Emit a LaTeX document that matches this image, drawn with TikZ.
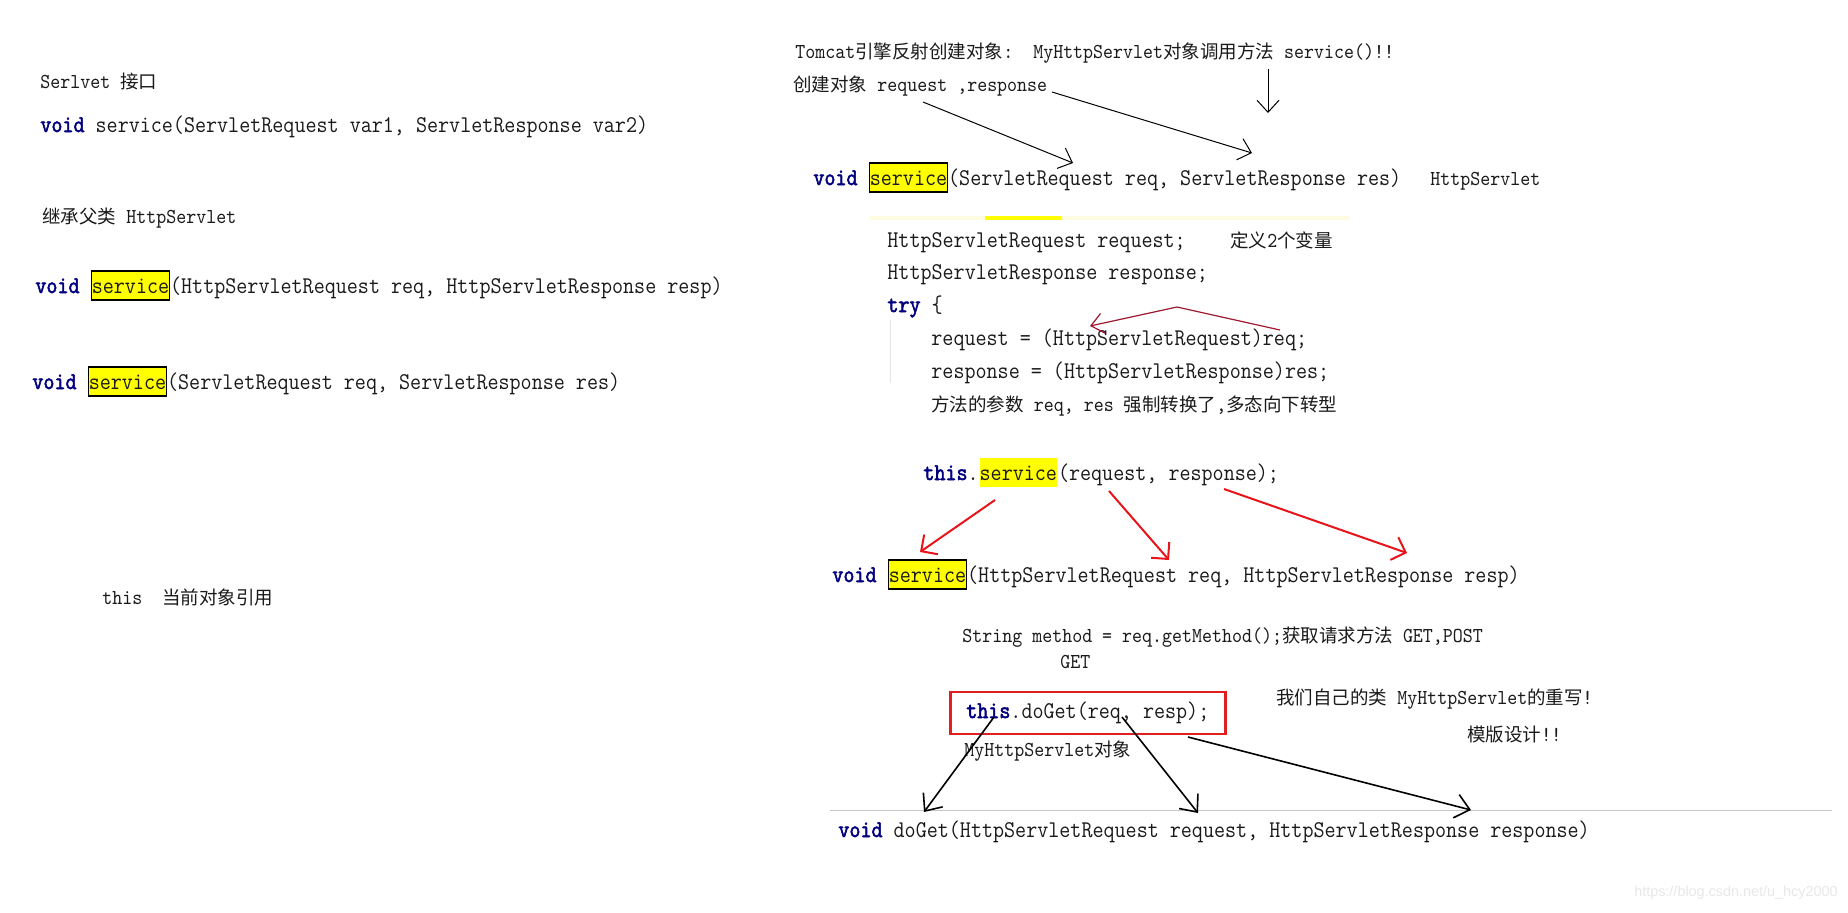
\documentclass[tikz,border=0pt]{standalone}
\usepackage{fontspec}
\usetikzlibrary{arrows.meta}
\newfontfamily\monof[FakeStretch=0.894]{Latin Modern Mono}
\newfontfamily\monofb[FakeStretch=0.894,FakeBold=2.2]{Latin Modern Mono}
\newfontfamily\cjkf{Noto Sans CJK SC}
\newfontfamily\wmf{Liberation Sans}
\definecolor{kwblue}{HTML}{000080}
\definecolor{txt}{HTML}{1A1A1A}
\definecolor{hly}{HTML}{FFFF00}
\definecolor{redar}{HTML}{E8141A}
\definecolor{darkred}{HTML}{A01830}
\definecolor{redbox}{HTML}{E02020}
\definecolor{paley}{HTML}{FFFBE0}
\newcommand\bigf{\fontsize{12pt}{14pt}\selectfont\monof}
\newcommand\smallf{\fontsize{10.64pt}{12pt}\selectfont\monof}
\newcommand\zh[1]{{\cjkf\fontsize{9.25pt}{12pt}\selectfont #1}}
\newcommand\kw[1]{{\monofb\color{kwblue}#1}}
\begin{document}
\begin{tikzpicture}[x=0.5pt,y=-0.5pt,
  big/.style={font=\bigf, text=txt, inner sep=0pt, anchor=base west},
  small/.style={font=\smallf, text=txt, inner sep=0pt, anchor=base west},
  hlbox/.style={big, fill=hly, draw=black, line width=0.6pt, inner xsep=0pt, inner ysep=1.5pt, text height=9.5pt, text depth=2pt},
  hlplain/.style={hlbox, draw=none},
  blk/.style={-{Straight Barb[length=6pt,width=11pt]}, line width=0.5pt, black},
  blkthick/.style={-{Straight Barb[length=7pt,width=12pt]}, line width=0.8pt, black},
  redarrow/.style={-{Straight Barb[length=6pt,width=12pt]}, line width=1pt, redar},
  tryarrow/.style={-{Straight Barb[length=6pt,width=10pt]}, line width=0.6pt, darkred}
]
\useasboundingbox[fill=white] (0,0) rectangle (1848,912);

% ---------- left column ----------
\node[small] (l1) at (40,88) {Serlvet \zh{接口}};
\node[big] (l2) at (40,132) {\kw{void} service(ServletRequest var1, ServletResponse var2)};
\node[small] (l3) at (42,223) {\zh{继承父类} HttpServlet};
\node[big] (l4a) at (35,293) {\kw{void}};
\node[hlbox] (l4b) at ([xshift=5.6pt]l4a.base east) {service};
\node[big] (l4c) at (l4b.base east) {(HttpServletRequest req, HttpServletResponse resp)};
\node[big] (l5a) at (32,389) {\kw{void}};
\node[hlbox] (l5b) at ([xshift=5.6pt]l5a.base east) {service};
\node[big] (l5c) at (l5b.base east) {(ServletRequest req, ServletResponse res)};
\node[small] (l6) at (102,604) {this\ \ \zh{当前对象引用}};

% ---------- right column ----------
\node[small] (r1) at (795,58) {Tomcat\zh{引擎反射创建对象}:\ \ MyHttpServlet\zh{对象调用方法} service()!!};
\node[small] (r2) at (793,91) {\zh{创建对象} request ,response};
\node[big] (r3a) at (813,185) {\kw{void}};
\node[hlbox] (r3b) at ([xshift=5.6pt]r3a.base east) {service};
\node[big] (r3c) at (r3b.base east) {(ServletRequest req, ServletResponse res)};
\node[small] (r3d) at (1430,185) {HttpServlet};

\draw[paley, line width=2pt] (870,218) -- (1349,218);
\draw[hly, line width=2pt] (985,218) -- (1062,218);

\node[big] (r4) at (887,247) {HttpServletRequest request;};
\node[small] (r4n) at (1230,247) {\zh{定义}2\zh{个变量}};
\node[big] (r5) at (887,279) {HttpServletResponse response;};
\node[big] (r6) at (887,312) {\kw{try} \{};
\draw[black!10] (890,320) -- (890,383);
\node[big] (r7) at (931,345) {request = (HttpServletRequest)req;};
\node[big] (r8) at (931,378) {response = (HttpServletResponse)res;};
\node[small] (r9) at (931,411) {\zh{方法的参数} req, res \zh{强制转换了},\zh{多态向下转型}};

\node[big] (r10a) at (923,480) {\kw{this}.};
\node[hlplain] (r10b) at (r10a.base east) {service};
\node[big] (r10c) at (r10b.base east) {(request, response);};

\node[big] (r11a) at (832,582) {\kw{void}};
\node[hlbox] (r11b) at ([xshift=5.6pt]r11a.base east) {service};
\node[big] (r11c) at (r11b.base east) {(HttpServletRequest req, HttpServletResponse resp)};

\node[small] (r12) at (962,642) {String method = req.getMethod();\zh{获取请求方法} GET,POST};
\node[small] (r13) at (1060,668) {GET};
\node[big, draw=redbox, line width=1.25pt, inner xsep=8pt, inner ysep=3.5pt, text height=9.5pt, text depth=4.5pt] (r14) at (949,718) {\kw{this}.doGet(req, resp);};
\node[small] (r15) at (964,756) {MyHttpServlet\zh{对象}};
\node[small] (r16) at (1276,704) {\zh{我们自己的类} MyHttpServlet\zh{的重写}!};
\node[small] (r17) at (1467,741) {\zh{模版设计}!!};

\draw[black!22] (830,810) -- (1832,810);
\node[big] (r18) at (838,837) {\kw{void} doGet(HttpServletRequest request, HttpServletResponse response)};

\node[font=\wmf\fontsize{7.2pt}{9pt}\selectfont, text=black!9, anchor=east, inner sep=0pt] (wm) at (1838,893) {https://blog.csdn.net/u\_hcy2000};

% ---------- arrow end points ----------
\coordinate (t1s) at (923,102);  \coordinate (t1e) at (1073,163);
\coordinate (t2s) at (1052,92);  \coordinate (t2e) at (1252,153);
\coordinate (t3s) at (1268,69);  \coordinate (t3e) at (1268,113);
\coordinate (q1) at (1280,330);  \coordinate (q2) at (1177,307);  \coordinate (q3) at (1090,326);
\coordinate (a1s) at (995,500);  \coordinate (a1e) at (920,552);
\coordinate (a2s) at (1109,491); \coordinate (a2e) at (1169,560);
\coordinate (a3s) at (1224,489); \coordinate (a3e) at (1407,553);
\coordinate (b1s) at (994,717);  \coordinate (b1e) at (924,812);
\coordinate (b2s) at (1122,717); \coordinate (b2e) at (1198,813);
\coordinate (b3s) at (1188,737); \coordinate (b3e) at (1471,810);

% ---------- arrows ----------
\draw[blk] (t1s) -- (t1e);
\draw[blk] (t2s) -- (t2e);
\draw[blk] (t3s) -- (t3e);
\draw[tryarrow] (q1) -- (q2) -- (q3);
\draw[redarrow] (a1s) -- (a1e);
\draw[redarrow] (a2s) -- (a2e);
\draw[redarrow] (a3s) -- (a3e);
\draw[blkthick] (b1s) -- (b1e);
\draw[blkthick] (b2s) -- (b2e);
\draw[blkthick] (b3s) -- (b3e);
\end{tikzpicture}
\end{document}
